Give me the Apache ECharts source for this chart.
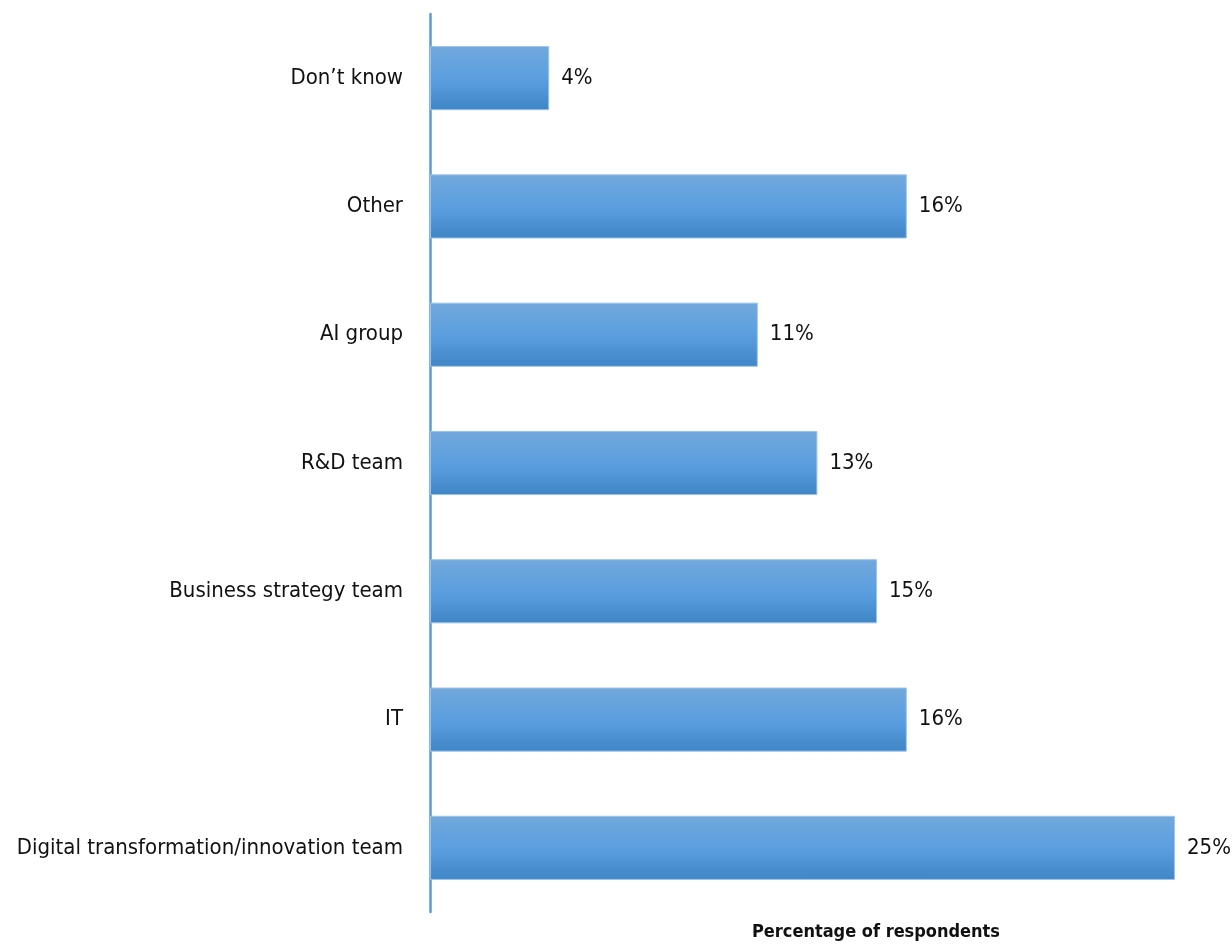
<!DOCTYPE html>
<html>
<head>
<meta charset="utf-8">
<script src="https://cdn.jsdelivr.net/npm/echarts@6/dist/echarts.min.js"></script>
<style>
    html, body { margin: 0; padding: 0; background: #fff; }
    #chart { width: 1232px; height: 944px; }
</style>
</head>
<body>
<div id="chart"></div>
<script>
    // categories bottom -> top (category axis on y starts at the bottom)
    const categories = ['Digital transformation/innovation team', 'IT', 'Business strategy team', 'R&D team', 'AI group', 'Other', 'Don\u2019t know']
    const values = [25, 16, 15, 13, 11, 16, 4]
    const axisTitle = 'Percentage of respondents'

    const font = '"DejaVu Sans Condensed", "Liberation Sans Narrow", Roboto, sans-serif'
    const mychart = echarts.init(document.getElementById('chart'))

    mychart.setOption({
        animation: false,
        grid: {
            left: 430,
            right: 57,
            top: 14,
            bottom: 32
        },
        xAxis: {
            type: 'value',
            min: 0,
            max: 25,
            show: false
        },
        yAxis: {
            type: 'category',
            data: categories,
            axisLine: { show: true, lineStyle: { color: '#5b9bd5', width: 2.5 } },
            axisTick: { show: false },
            axisLabel: {
                color: '#111',
                fontSize: 22,
                fontFamily: font,
                margin: 27
            },
            splitLine: { show: false }
        },
        graphic: [
            {
                type: 'text',
                left: 752,
                top: 923,
                style: {
                    text: axisTitle,
                    fill: '#111',
                    fontSize: 18,
                    fontWeight: 'bold',
                    fontFamily: font
                }
            }
        ],
        series: [{
            type: 'bar',
            data: values,
            barWidth: '50%',
            itemStyle: {
                color: new echarts.graphic.LinearGradient(0, 0, 0, 1, [
                    { offset: 0, color: '#72a8dc' },
                    { offset: 0.5, color: '#5b9fe0' },
                    { offset: 1, color: '#3f86c6' }
                ]),
                borderColor: '#9cc3ea',
                borderWidth: 1
            },
            label: {
                show: true,
                position: 'right',
                distance: 12,
                formatter: '{c}%',
                color: '#111',
                fontSize: 22,
                fontFamily: font
            }
        }]
    })
</script>
</body>
</html>
